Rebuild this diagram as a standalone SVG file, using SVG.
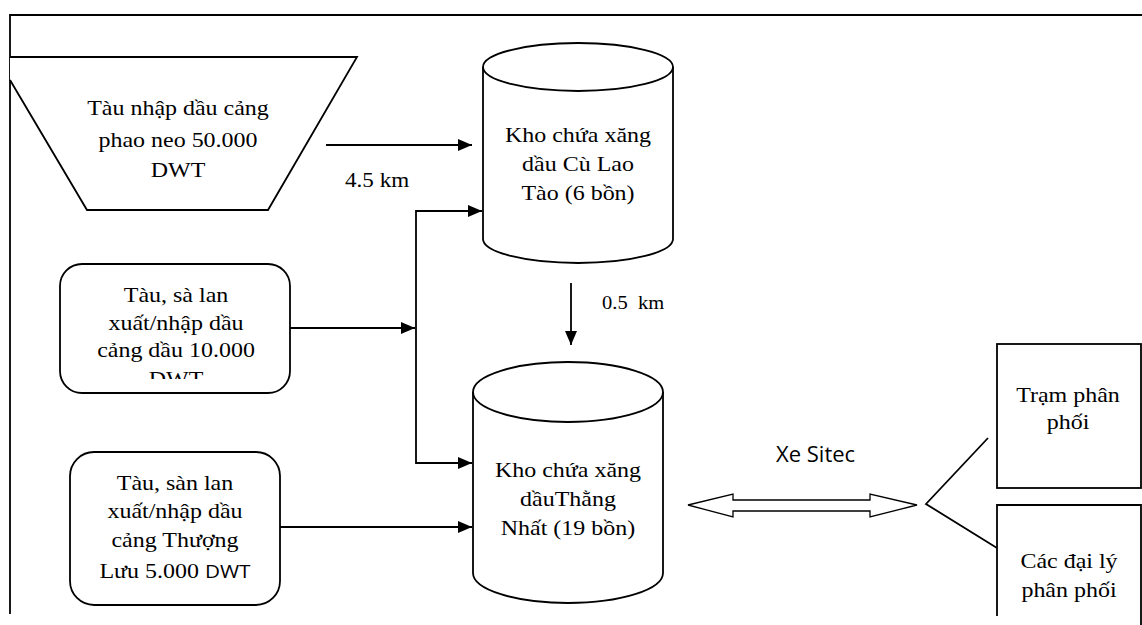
<svg xmlns="http://www.w3.org/2000/svg" width="1142" height="625" viewBox="0 0 1142 625">
<style>
.ln{fill:none;stroke:#000;stroke-width:1.8}
.sh{fill:#fff;stroke:#000;stroke-width:1.8}
.t{font-family:"Liberation Serif","Times New Roman",serif;font-size:22px;fill:#000;text-anchor:middle}
.s{font-family:"Open Sans","Liberation Sans",sans-serif;fill:#000}
</style>
<defs>
<marker id="ah" markerUnits="userSpaceOnUse" markerWidth="16" markerHeight="14" refX="14" refY="6" orient="auto">
<path d="M0,0 L14,6 L0,12 z" fill="#000"/>
</marker>
<clipPath id="clip2"><rect x="60" y="264" width="230" height="115"/></clipPath>
</defs>
<rect width="1142" height="625" fill="#fff"/>
<g id="frame">
<path class="ln" d="M10,614 V15 H1142"/>
</g>
<g id="n-tau50000">
<path class="sh" d="M10,57 H357 L268,210 H87 L10,80"/>
<text class="t" transform="translate(178 0) scale(1.09 1)"><tspan x="0" y="115">Tàu nhập dầu cảng</tspan><tspan x="0" y="147">phao neo 50.000</tspan><tspan x="0" y="177">DWT</tspan></text>
</g>
<g id="n-culaotao">
<path class="sh" d="M483,67 A95,24 0 0 1 673,67 V239 A95,24 0 0 1 483,239 Z"/>
<path class="ln" d="M483,67 A95,24 0 0 0 673,67"/>
<text class="t" transform="translate(578 0) scale(1.09 1)"><tspan x="0" y="142">Kho chứa xăng</tspan><tspan x="0" y="171">dầu Cù Lao</tspan><tspan x="0" y="200">Tào (6 bồn)</tspan></text>
</g>
<g id="n-tau10000">
<rect class="sh" x="60" y="264" width="230" height="129" rx="22"/>
<g clip-path="url(#clip2)">
<text class="t" transform="translate(176 0) scale(1.09 1)"><tspan x="0" y="302">Tàu, sà lan</tspan><tspan x="0" y="330">xuất/nhập dầu</tspan><tspan x="0" y="357">cảng dầu 10.000</tspan><tspan x="0" y="386">DWT</tspan></text>
</g>
</g>
<g id="n-tau5000">
<rect class="sh" x="70" y="452" width="210" height="153" rx="24"/>
<text class="t" transform="translate(175 0) scale(1.09 1)"><tspan x="0" y="490">Tàu, sàn lan</tspan><tspan x="0" y="518">xuất/nhập dầu</tspan><tspan x="0" y="547">cảng Thượng</tspan><tspan x="0" y="578">Lưu 5.000 <tspan class="s" font-size="19">DWT</tspan></tspan></text>
</g>
<g id="n-thangnhat">
<path class="sh" d="M473,392 A95,30 0 0 1 663,392 V573 A95,30 0 0 1 473,573 Z"/>
<path class="ln" d="M473,392 A95,30 0 0 0 663,392"/>
<text class="t" transform="translate(568 0) scale(1.09 1)"><tspan x="0" y="477">Kho chứa xăng</tspan><tspan x="0" y="506">dầuThằng</tspan><tspan x="0" y="535">Nhất (19 bồn)</tspan></text>
</g>
<g id="n-tram">
<rect class="sh" x="997" y="344" width="144" height="144"/>
<text class="t" transform="translate(1068 0) scale(1.09 1)"><tspan x="0" y="402">Trạm phân</tspan><tspan x="0" y="429">phối</tspan></text>
</g>
<g id="n-daily">
<path class="sh" d="M997,616 V505 H1141 V625"/>
<text class="t" transform="translate(1069 0) scale(1.09 1)"><tspan x="0" y="568">Các đại lý</tspan><tspan x="0" y="597">phân phối</tspan></text>
</g>
<g id="connectors">
<path class="ln" d="M326,145 H472" marker-end="url(#ah)"/>
<path class="ln" d="M290,328 H415" marker-end="url(#ah)"/>
<path class="ln" d="M416,328 V211 H482" marker-end="url(#ah)"/>
<path class="ln" d="M416,328 V463 H472" marker-end="url(#ah)"/>
<path class="ln" d="M280,527 H472" marker-end="url(#ah)"/>
<path class="ln" d="M571,283 V345" marker-end="url(#ah)"/>
<polygon fill="#fff" stroke="#000" stroke-width="1.3" points="688,505 733,494 733,500 870,500 870,494 917,505 870,517 870,511 733,511 733,517"/>
<path class="ln" d="M988,438 L926,504 L997,548"/>
</g>
<g id="labels">
<text class="t" style="text-anchor:start" transform="translate(345 0) scale(1.05 1)" x="0" y="187">4.5 km</text>
<text class="t" style="text-anchor:start;font-size:18px" transform="translate(602 0) scale(1.14 1)" x="0" y="309" xml:space="preserve">0.5  km</text>
<text class="s" font-size="22" x="776" y="462">Xe Sitec</text>
</g>
</svg>
